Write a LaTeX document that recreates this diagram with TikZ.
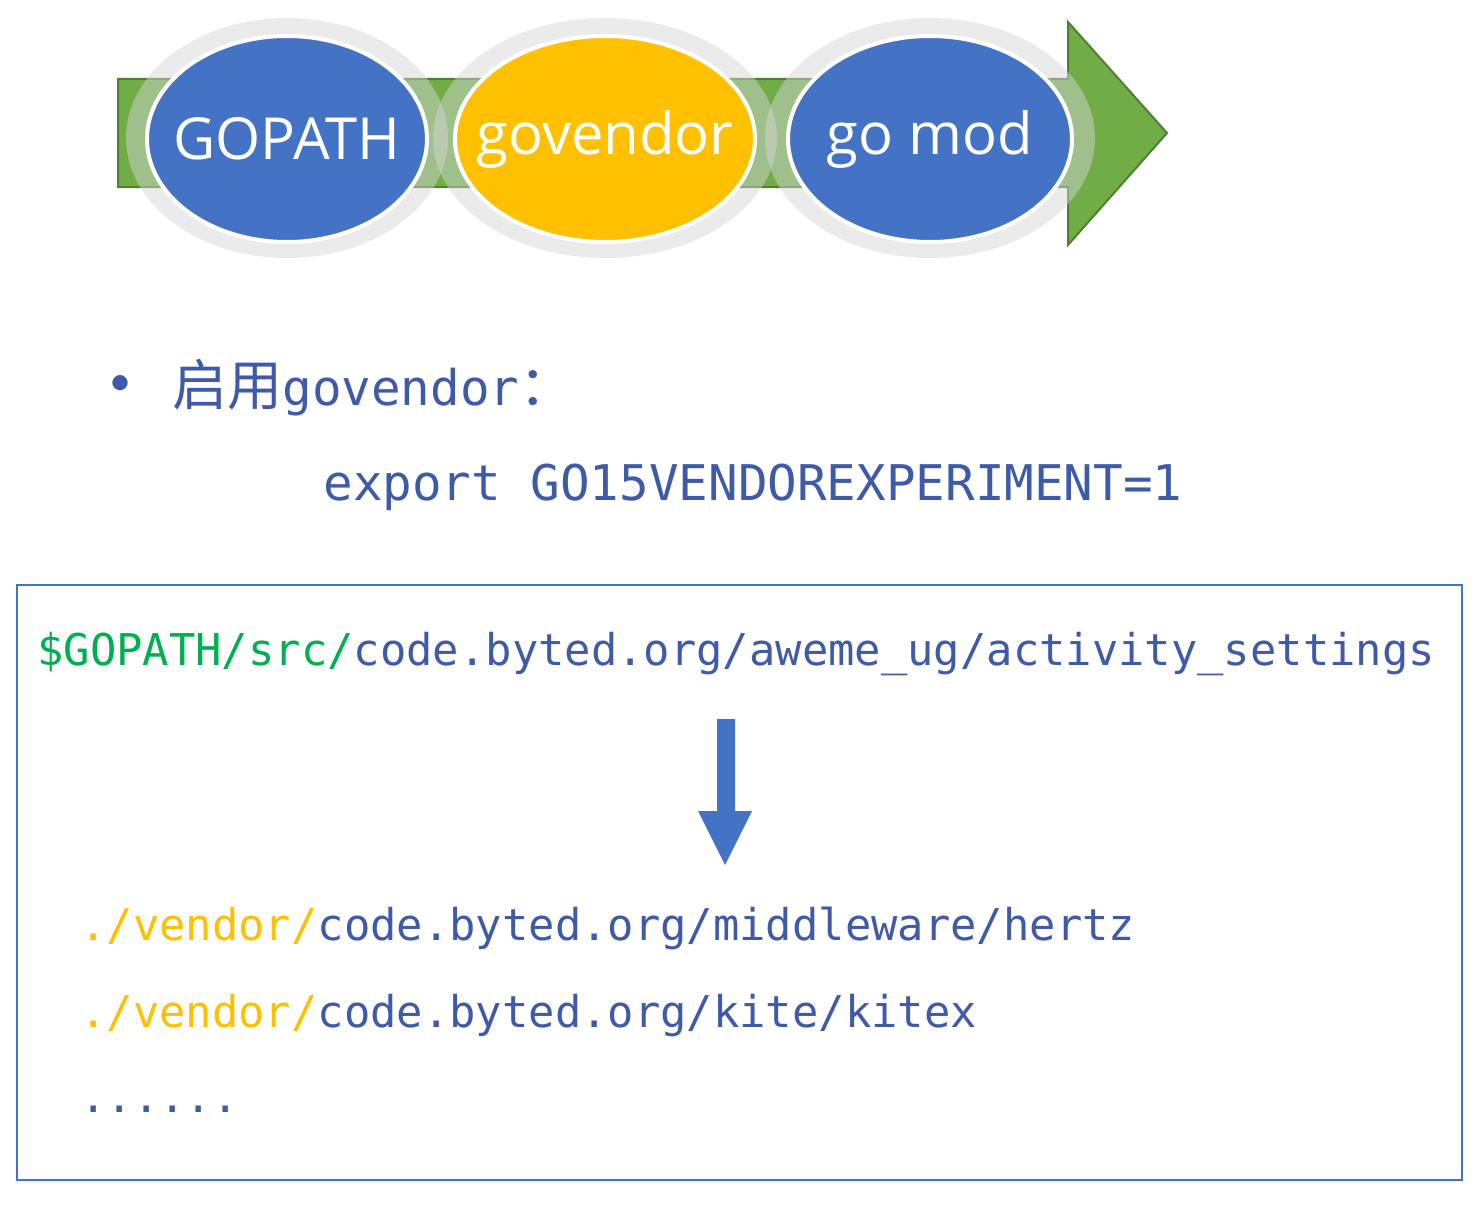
\documentclass[tikz,border=0pt]{standalone}
\usepackage{fontspec}
\setsansfont{Open Sans}
\setmonofont{DejaVu Sans Mono}
\newfontfamily\cjkfont{Noto Sans CJK SC}
\usetikzlibrary{shapes.geometric}
\usetikzlibrary{positioning}
\definecolor{ovalblue}{HTML}{4472C4}
\definecolor{ovalgold}{HTML}{FFC000}
\definecolor{arrowgreen}{HTML}{70AD47}
\definecolor{arrowedge}{HTML}{507E32}
\definecolor{codeblue}{HTML}{3F5AA9}
\definecolor{pathgreen}{HTML}{00B050}

\begin{document}
\begin{tikzpicture}[
    x=0.5pt, y=-0.5pt,
    font=\sffamily
]
\tikzset{
    halo/.style = {ellipse, fill=black!16, opacity=0.48, inner sep=0pt},
    oval/.style = {ellipse, draw=white, line width=2pt, inner sep=0pt,
        minimum height=103pt, text=white,
        font=\sffamily\fontsize{29}{34}\selectfont},
    codeline/.style = {anchor=base west, inner sep=0pt, text=codeblue,
        font=\ttfamily\fontsize{21.9}{26}\selectfont},
    bigline/.style = {anchor=base west, inner sep=0pt, text=codeblue,
        font=\ttfamily\fontsize{24.6}{30}\selectfont}
}
\newcommand\ovaltext[1]{\makebox[0pt]{#1}}
\newcommand\cjktext[1]{{\cjkfont\fontsize{27.5}{30}\selectfont #1}}
\useasboundingbox (0,0) rectangle (1482,1204);

% timeline arrow
\filldraw[fill=arrowgreen, draw=arrowedge, line width=1pt]
    (118,79) -- (1068,79) -- (1068,22) -- (1167,133) -- (1068,245)
    -- (1068,187) -- (118,187) -- cycle;

\node[halo, minimum width=161pt, minimum height=120pt] at (287,138) (gopathhalo) {};
\node[halo, minimum width=172pt, minimum height=120pt] at (605,138) (govendorhalo) {};
\node[halo, minimum width=165pt, minimum height=120pt] at (930,138) (gomodhalo) {};

\node[oval, fill=ovalblue, minimum width=140pt] at (287,139) (gopath) {\ovaltext{GOPATH}};
\node[oval, fill=ovalgold, minimum width=150pt] at (605,139) (govendor) {\ovaltext{govendor}};
\node[oval, fill=ovalblue, minimum width=142pt] at (930,139) (gomod) {\ovaltext{go mod}};

% enable govendor
\node[bigline] at (84,410) (bullet) {{\cjkfont\fontsize{36}{36}\selectfont •}};
\node[bigline] at (172,405) (enable) {\cjktext{启用}govendor\cjktext{：}};
\node[bigline] at (323,500) (export) {export GO15VENDOREXPERIMENT=1};

% code box
\draw[ovalblue, line width=1pt] (17,585) rectangle (1462,1180);
\node[codeline] at (37,665) (srcpath)
    {\textcolor{pathgreen}{\$GOPATH/src/}code.byted.org/aweme\_ug/activity\_settings};
\fill[ovalblue] (717,719) -- (735,719) -- (735,811) -- (752,811)
    -- (725,865) -- (698,811) -- (717,811) -- cycle;
\node[codeline] at (80,940) (hertz)
    {\textcolor{ovalgold}{./vendor/}code.byted.org/middleware/hertz};
\node[codeline] at (80,1027) (kitex)
    {\textcolor{ovalgold}{./vendor/}code.byted.org/kite/kitex};
\node[codeline] at (80,1112) (more) {......};
\end{tikzpicture}
\end{document}
